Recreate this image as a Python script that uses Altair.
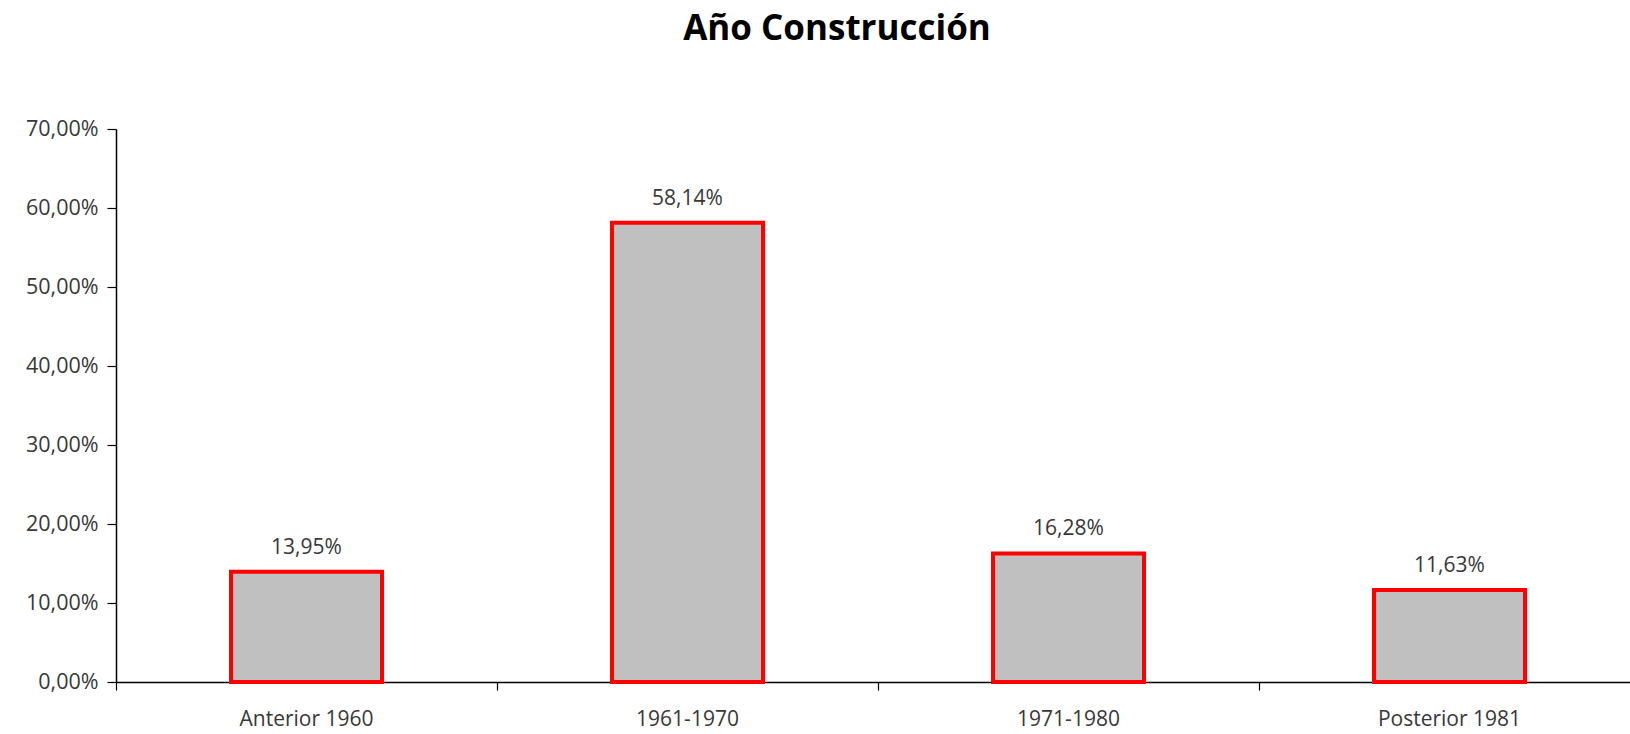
import altair as alt
import pandas as pd

categories = ["Anterior 1960", "1961-1970", "1971-1980", "Posterior 1981"]
values = [0.1395, 0.5814, 0.1628, 0.1163]
y_ticks = [0.0, 0.1, 0.2, 0.3, 0.4, 0.5, 0.6, 0.7]

df = pd.DataFrame({"cat": categories, "val": values})

FONT = "Open Sans"
LBL = "#383838"

x = alt.X("cat:N", sort=categories, title=None,
          scale=alt.Scale(paddingInner=0, paddingOuter=0, range=[0, 1524]),
          axis=alt.Axis(labelAngle=0, bandPosition=0, ticks=True, tickSize=8,
                        tickColor="black", domainColor="black", domainWidth=1.5,
                        tickWidth=1.2, labelPadding=18, labelFontSize=21,
                        labelColor=LBL, labelFont=FONT))
y = alt.Y("val:Q", title=None,
          scale=alt.Scale(domain=[0, 0.7], nice=False),
          axis=alt.Axis(values=y_ticks, grid=False, tickSize=9, tickColor="black",
                        domainColor="black", domainWidth=1.5, tickWidth=1.2,
                        labelFontSize=21.5, labelColor=LBL, labelFont=FONT,
                        labelPadding=9,
                        labelExpr="replace(format(datum.value, '.2%'), '.', ',')"))

bars = alt.Chart(df).mark_bar(size=151, color="#C0C0C0", stroke="#FF0000",
                              strokeWidth=4).encode(x=x, y=y)

text = alt.Chart(df).transform_calculate(
    lbl="replace(format(datum.val, '.2%'), '.', ',')"
).mark_text(dy=-24, fontSize=21, color=LBL, font=FONT).encode(
    x=alt.X("cat:N", sort=categories), y="val:Q", text="lbl:N")

chart = (bars + text).properties(
    width=1514, height=553,
    title=alt.TitleParams("Año Construcción", fontSize=35, font=FONT,
                          fontWeight="bold", color="black", anchor="middle",
                          offset=71, dx=-36),
    autosize=alt.AutoSizeParams(type="none"),
    padding={"left": 116, "top": 129, "right": 0, "bottom": 52},
).configure_view(stroke=None)

chart.save("out.html", embed_options={"renderer": "svg", "actions": False})
